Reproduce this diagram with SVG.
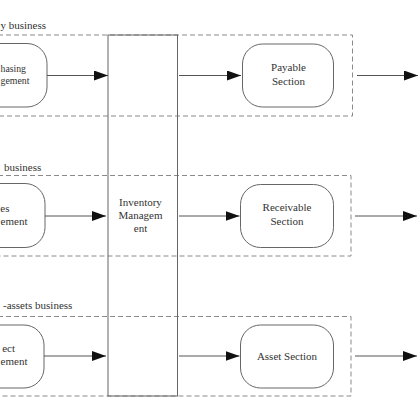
<svg xmlns="http://www.w3.org/2000/svg" width="418" height="418" viewBox="0 0 418 418">
<defs>
<style>
.lane{fill:none;stroke:#8a8a8a;stroke-width:1;stroke-dasharray:5,3}
.node{fill:#fff;stroke:#666;stroke-width:1}
.inv{fill:none;stroke:#666;stroke-width:1}
.t{font-family:'Liberation Serif','Times New Roman',serif;font-size:11px;fill:#333}
.c{text-anchor:middle}
.e{text-anchor:end}
.conn line{stroke:#555;stroke-width:1;marker-end:url(#ah)}
</style>
<marker id="ah" viewBox="0 0 14 10" refX="14" refY="5" markerWidth="14" markerHeight="10" markerUnits="userSpaceOnUse" orient="auto">
<path d="M0,0 L14,5 L0,10 z" fill="#111"/>
</marker>
</defs>
<rect width="418" height="418" fill="#fff"/>
<g id="lanes">
<rect class="lane" x="-10" y="35" width="362.5" height="81"/>
<rect class="lane" x="-10" y="175.5" width="361" height="80.5"/>
<rect class="lane" x="-10" y="316.5" width="361" height="79.5"/>
<text class="t" x="0.5" y="29">y business</text>
<text class="t" x="4" y="170.5">business</text>
<text class="t" x="3" y="309">-assets business</text>
</g>
<g id="purchasing">
<rect class="node" x="-60" y="43.5" width="107" height="63.5" rx="20"/>
<text class="t" x="0.5" y="71.5" textLength="25.5" lengthAdjust="spacingAndGlyphs">hasing</text>
<text class="t" x="0.5" y="83.5" textLength="29" lengthAdjust="spacingAndGlyphs">gement</text>
</g>
<g id="sales">
<rect class="node" x="-60" y="183.5" width="105" height="64" rx="20"/>
<text class="t e" x="9.5" y="211.5">es</text>
<text class="t e" x="27.5" y="224.5">ement</text>
</g>
<g id="direct">
<rect class="node" x="-60" y="325" width="104" height="63" rx="20"/>
<text class="t e" x="15" y="351.5">ect</text>
<text class="t e" x="27.5" y="364.5">ement</text>
</g>
<g id="inventory">
<rect class="inv" x="108" y="35" width="69.5" height="361"/>
<text class="t c" x="140.5" y="205.5">Inventory</text>
<text class="t c" x="140.5" y="218.5">Managem</text>
<text class="t c" x="140.5" y="231.5">ent</text>
</g>
<g id="payable">
<rect class="node" x="242.5" y="44" width="91" height="63" rx="20"/>
<text class="t c" x="288.5" y="70.5">Payable</text>
<text class="t c" x="288.5" y="84.5">Section</text>
</g>
<g id="receivable">
<rect class="node" x="240.5" y="184.5" width="93" height="63" rx="20"/>
<text class="t c" x="287" y="211">Receivable</text>
<text class="t c" x="287" y="224.5">Section</text>
</g>
<g id="asset">
<rect class="node" x="240.5" y="325" width="93" height="63" rx="20"/>
<text class="t c" x="287" y="359.5">Asset Section</text>
</g>
<g id="connectors" class="conn">
<line x1="47" y1="75.5" x2="108" y2="75.5"/>
<line x1="45" y1="216" x2="106" y2="216"/>
<line x1="44" y1="356" x2="106" y2="356"/>
<line x1="179" y1="75.5" x2="241" y2="75.5"/>
<line x1="179" y1="216" x2="239.5" y2="216"/>
<line x1="179" y1="356" x2="239.5" y2="356"/>
<line x1="357" y1="75.5" x2="418" y2="75.5"/>
<line x1="355" y1="216" x2="417" y2="216"/>
<line x1="355" y1="356" x2="417" y2="356"/>
</g>
</svg>
